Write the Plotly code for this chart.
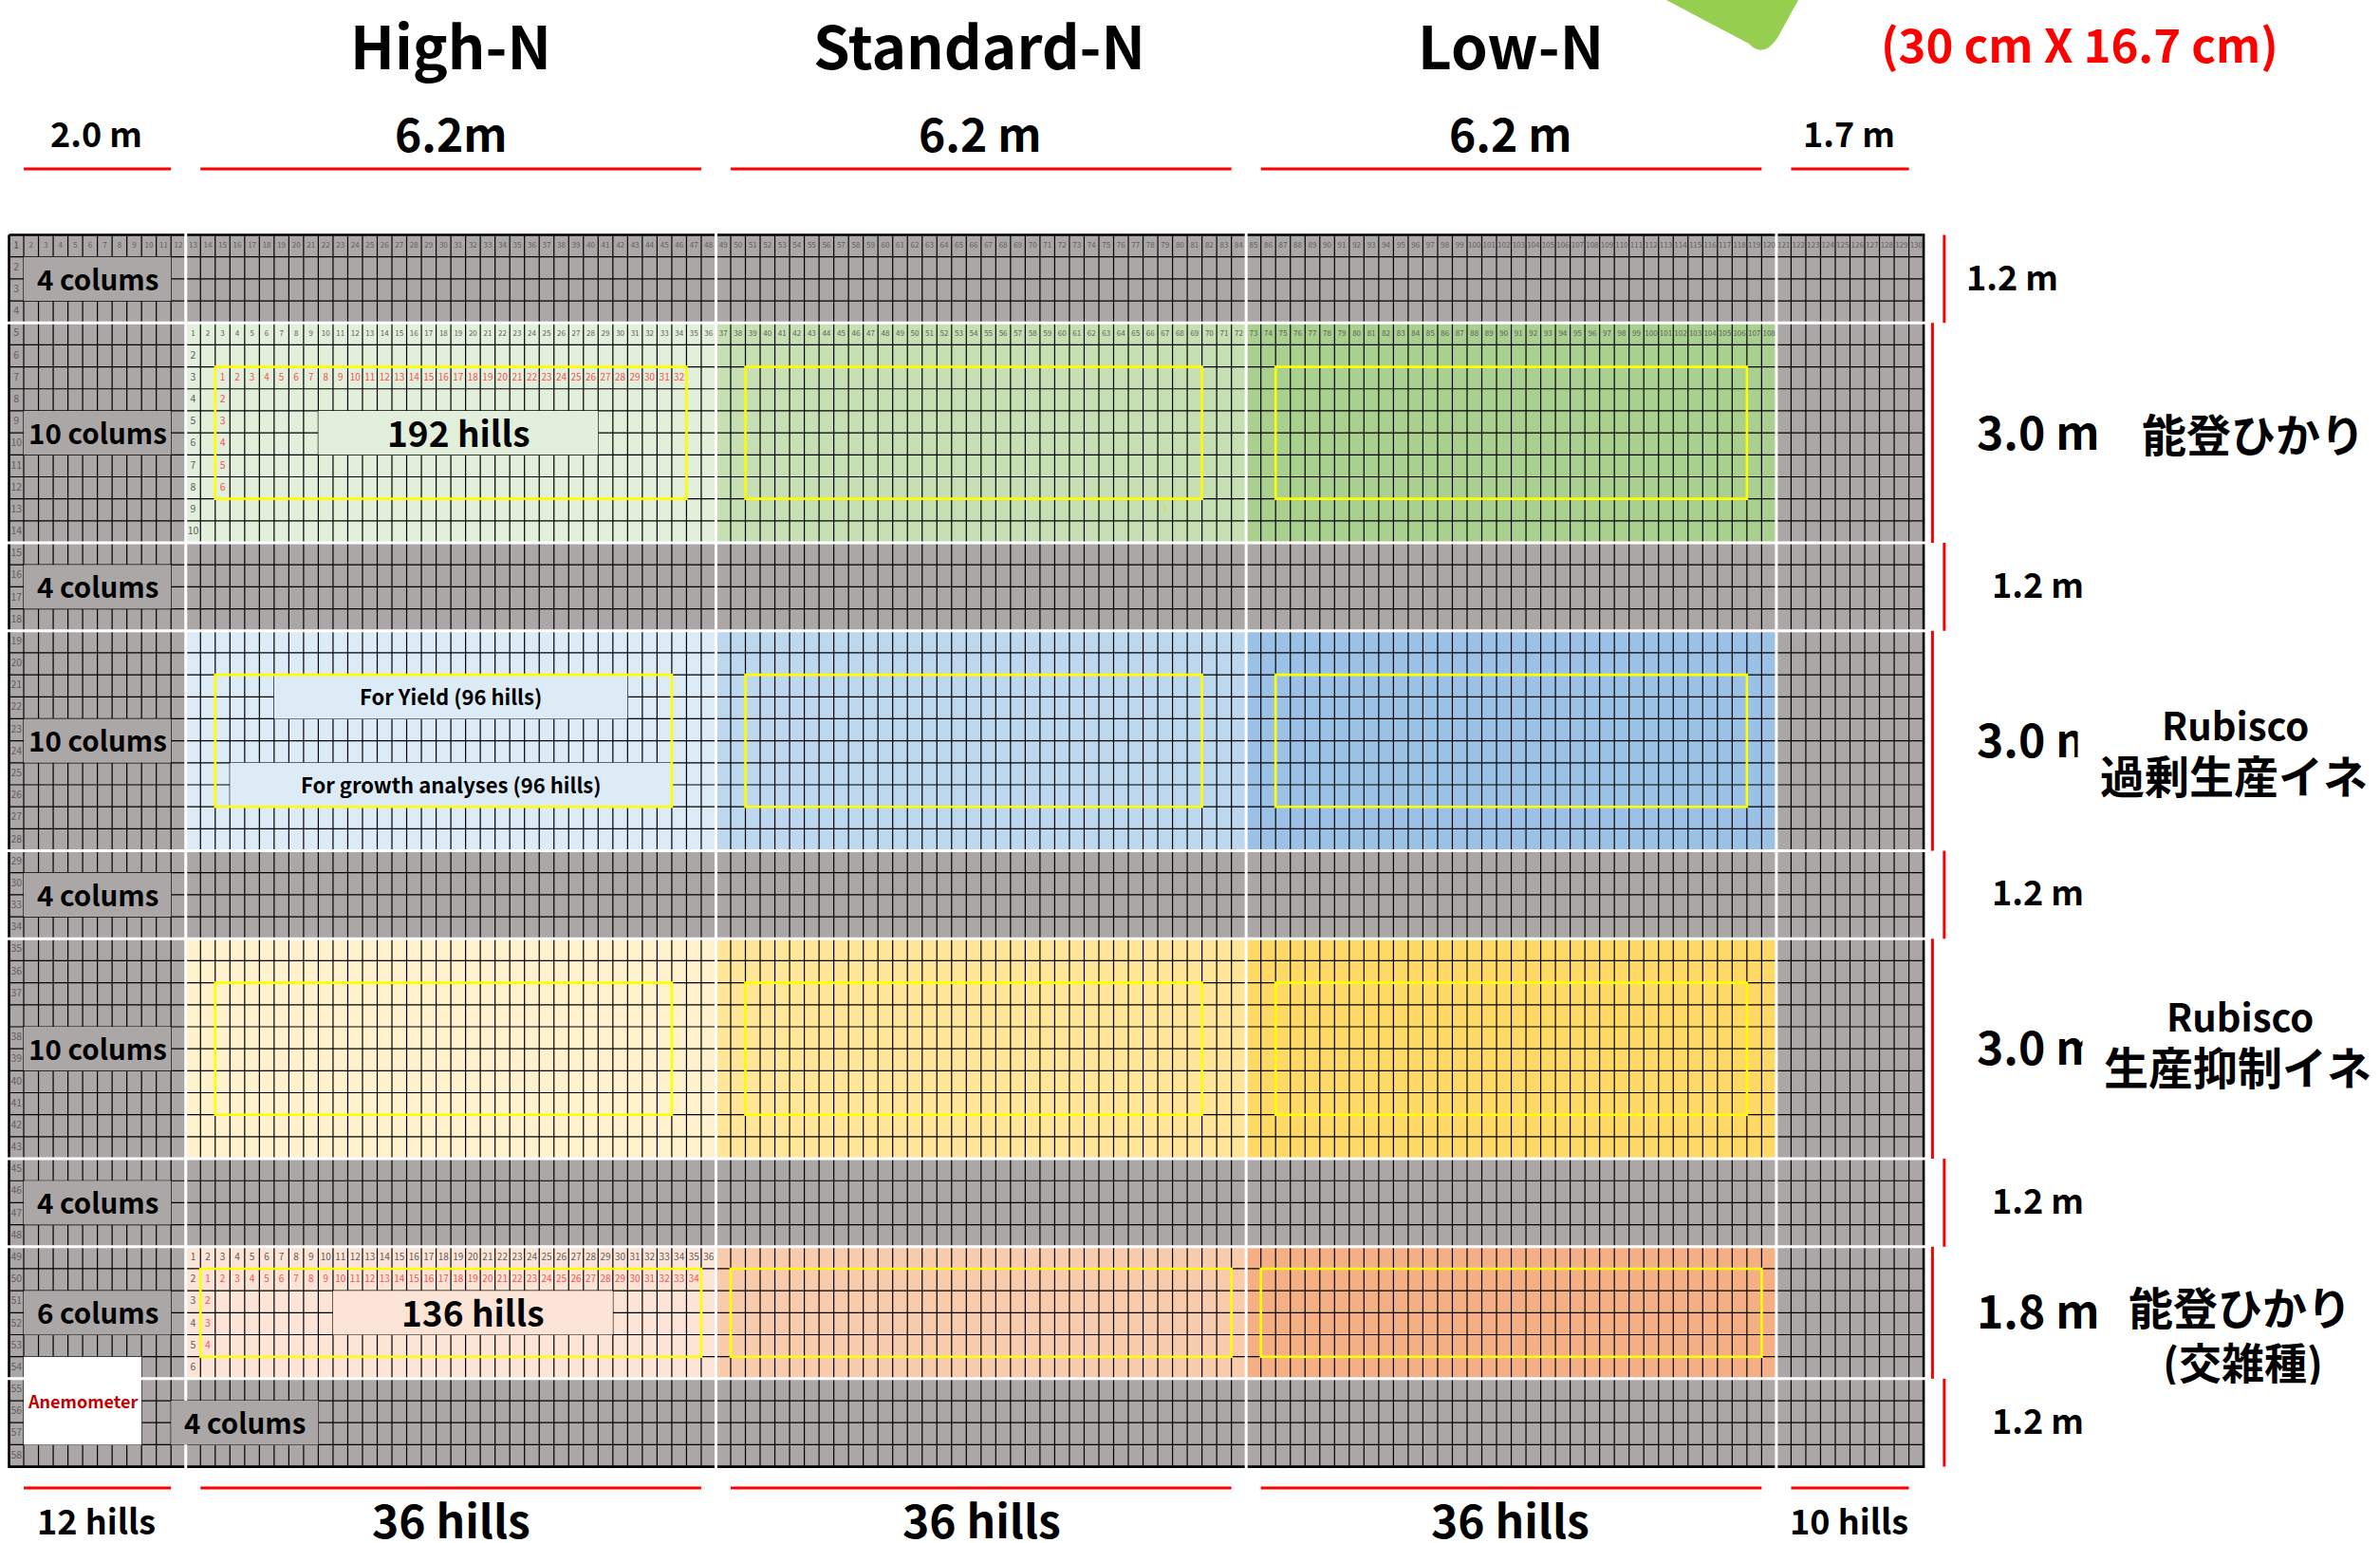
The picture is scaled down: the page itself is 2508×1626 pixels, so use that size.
import plotly.graph_objects as go

W, H = 2508, 1626
FONT = "Noto Sans CJK JP"

# ---- field layout (hills across, rows down)
n_hills = 130
n_rows = 56
plot_edges = [0, 12, 48, 84, 120, 130]
block_edges = [0, 4, 14, 18, 28, 32, 42, 46, 52, 56]
block_kind = ["buffer", "noto", "buffer", "over", "buffer", "sup", "buffer", "hybrid", "buffer"]
colour_sets = {
    "noto": ["#E2EFDA", "#C6E0B4", "#A9D08E"],
    "over": ["#DDEBF7", "#BDD7EE", "#9BC2E6"],
    "sup": ["#FFF2CC", "#FFE699", "#FFD966"],
    "hybrid": ["#FCE4D6", "#F8CBAD", "#F4B084"],
}
GREY = "#ABA7A6"

# ---- tick-like labels
top_numbers = [str(i) for i in range(1, 131)]
row_numbers = ["1", "2", "3", "4", "5", "6", "7", "8", "9", "10", "11", "12", "13", "14",
               "15", "16", "17", "18", "19", "20", "21", "22", "23", "24", "25", "26", "27", "28",
               "29", "30", "33", "34", "35", "36", "37", "", "38", "39", "40", "41", "42", "43",
               "45", "46", "47", "48", "49", "50", "51", "52", "53", "54", "55", "56", "57", "58"]
sample_rects = [
    (14, 46, 6, 12), (50, 81, 6, 12), (86, 118, 6, 12),
    (14, 45, 20, 26), (50, 81, 20, 26), (86, 118, 20, 26),
    (14, 45, 34, 40), (50, 81, 34, 40), (86, 118, 34, 40),
    (13, 47, 47, 51), (49, 83, 47, 51), (85, 119, 47, 51),
]
# x0, x1, y0, y1, fill
boxes = [
    (1, 11, 1, 3, GREY), (1, 11, 8, 10, GREY), (1, 11, 15, 17, GREY), (1, 11, 22, 24, GREY),
    (1, 11, 29, 31, GREY), (1, 11, 36, 38, GREY), (1, 11, 43, 45, GREY), (1, 11, 48, 50, GREY),
    (11, 21, 53, 55, GREY), (1, 9, 51, 55, "#FFFFFF"),
    (21, 40, 8, 10, "#E2EFDA"), (22, 41, 48, 50, "#FCE4D6"),
    (18, 42, 20, 22, "#DDEBF7"), (15, 45, 24, 26, "#DDEBF7"),
]
box_labels = [
    ("4 colums", 6, 1.95, 29.5, "black"), ("10 colums", 6, 8.95, 29.5, "black"), ("4 colums", 6, 15.95, 29.5, "black"),
    ("10 colums", 6, 22.95, 29.5, "black"), ("4 colums", 6, 29.95, 29.5, "black"), ("10 colums", 6, 36.95, 29.5, "black"),
    ("4 colums", 6, 43.95, 29.5, "black"), ("6 colums", 6, 48.95, 29.5, "black"), ("4 colums", 16, 53.95, 29.5, "black"),
    ("Anemometer", 5, 53.0, 18, "#C00000"),
    ("192 hills", 30.5, 8.95, 37, "black"), ("136 hills", 31.5, 48.95, 37, "black"),
    ("For Yield (96 hills)", 30, 20.95, 22, "black"), ("For growth analyses (96 hills)", 30, 24.95, 22, "black"),
]
# text, x px, y px, size
outer_labels = [
    ("High-N", 475, 46, 62), ("Standard-N", 1032, 46, 62), ("Low-N", 1592, 46, 62),
    ("2.0 m", 102, 139, 36), ("6.2m", 475, 139, 48), ("6.2 m", 1032, 139, 48),
    ("6.2 m", 1592, 139, 48), ("1.7 m", 1948, 139, 36),
    ("1.2 m", 2120, 290, 36), ("1.2 m", 2147, 614, 36), ("1.2 m", 2147, 938, 36),
    ("1.2 m", 2147, 1263, 36), ("1.2 m", 2147, 1495, 36),
    ("3.0 m", 2147, 453, 48), ("3.0 m", 2147, 777, 48), ("3.0 m", 2147, 1101, 48), ("1.8 m", 2147, 1379, 48),
]
bottom_labels = [
    ("12 hills", 102, 1601, 36), ("36 hills", 475, 1600, 48), ("36 hills", 1034, 1600, 48),
    ("36 hills", 1592, 1600, 48), ("10 hills", 1948, 1601, 36),
]
side_labels = [
    ("能登ひかり", 2374, 455, 47), ("Rubisco", 2355, 762, 40), ("過剰生産イネ", 2354, 815, 47),
    ("Rubisco", 2360, 1069, 40), ("生産抑制イネ", 2358, 1122, 47),
    ("能登ひかり", 2360, 1375, 47), ("(交雑種)", 2363, 1434, 45),
]

x_unit, y_unit = 15.52, 23.18
x0_px, y0_px = 9.5, 247.5
x_range = [-x0_px / x_unit, (W - x0_px) / x_unit]
y_range = [(H - y0_px) / y_unit, -y0_px / y_unit]

# ---- cell colours
palette = [GREY] + [c for k in ("noto", "over", "sup", "hybrid") for c in colour_sets[k]]
kinds = ["noto", "over", "sup", "hybrid"]
z = []
for r in range(n_rows):
    b = next(i for i in range(len(block_kind)) if block_edges[i] <= r < block_edges[i + 1])
    row = []
    for h in range(n_hills):
        p = next(i for i in range(5) if plot_edges[i] <= h < plot_edges[i + 1])
        if block_kind[b] == "buffer" or p in (0, 4):
            row.append(0)
        else:
            row.append(1 + kinds.index(block_kind[b]) * 3 + (p - 1))
    z.append(row)
n = len(palette)
cs = []
for i, c in enumerate(palette):
    cs += [[i / n, c], [(i + 1) / n, c]]

fig = go.Figure()
fig.add_trace(go.Heatmap(z=z, x=[h + 0.5 for h in range(n_hills)], y=[r + 0.5 for r in range(n_rows)],
                         colorscale=cs, zmin=-0.5, zmax=n - 0.5, showscale=False, hoverinfo="skip"))

# grid
gx, gy = [], []
for h in range(1, n_hills):
    gx += [h, h, None]; gy += [0, n_rows, None]
for r in range(1, n_rows):
    gx += [0, n_hills, None]; gy += [r, r, None]
fig.add_trace(go.Scatter(x=gx, y=gy, mode="lines", line=dict(color="#000000", width=1.2), hoverinfo="skip"))
# frame
fig.add_trace(go.Scatter(x=[0, n_hills, n_hills, 0, 0], y=[0, 0, n_rows, n_rows, 0], mode="lines",
                         line=dict(color="black", width=2.6), hoverinfo="skip"))
# white gaps
wx, wy = [], []
for e in plot_edges[1:-1]:
    wx += [e, e, None]; wy += [-0.1, n_rows + 0.1, None]
for e in block_edges[1:-1]:
    wx += [-0.3, n_hills + 0.3, None]; wy += [e, e, None]
fig.add_trace(go.Scatter(x=wx, y=wy, mode="lines", line=dict(color="white", width=3), hoverinfo="skip"))

# small numbers
def add_numbers(xs, ys, texts, colour, size):
    fig.add_trace(go.Scatter(x=xs, y=ys, text=texts, mode="text", hoverinfo="skip", cliponaxis=False,
                             textposition="middle center",
                             textfont=dict(family=FONT, size=size, color=colour)))

add_numbers([i + 0.5 for i in range(n_hills)], [0.5] * n_hills, top_numbers, "#606060", 8)
add_numbers([0.5] * n_rows, [r + 0.5 for r in range(n_rows)], row_numbers, "#606060", 10.5)
block_nums = [str(i) for i in range(1, 109)]
add_numbers([12.5 + i for i in range(108)], [4.5] * 108, block_nums, "#606060", 8)
add_numbers([12.5] * 9, [5.5 + i for i in range(9)], [str(i) for i in range(2, 11)], "#606060", 10.5)
add_numbers([14.5 + i for i in range(32)], [6.5] * 32, [str(i) for i in range(1, 33)], "#FF5050", 10)
add_numbers([14.5] * 5, [7.5 + i for i in range(5)], [str(i) for i in range(2, 7)], "#FF5050", 10.5)
add_numbers([12.5 + i for i in range(36)], [46.5] * 36, [str(i) for i in range(1, 37)], "#606060", 10)
add_numbers([12.5] * 5, [47.5 + i for i in range(5)], [str(i) for i in range(2, 7)], "#606060", 10.5)
add_numbers([13.5 + i for i in range(34)], [47.5] * 34, [str(i) for i in range(1, 35)], "#FF5050", 10)
add_numbers([13.5] * 3, [48.5 + i for i in range(3)], ["2", "3", "4"], "#FF5050", 10.5)
add_numbers([78.5], [12.5], ["1"], "#E6D050", 10)

shapes = []
for x0, x1, y0, y1, fill in boxes:
    shapes.append(dict(type="rect", xref="x", yref="y", x0=x0, x1=x1, y0=y0, y1=y1,
                       fillcolor=fill, line=dict(width=0), layer="above"))
for x0, x1, y0, y1 in sample_rects:
    shapes.append(dict(type="rect", xref="x", yref="y", x0=x0, x1=x1, y0=y0, y1=y1,
                       fillcolor="rgba(0,0,0,0)", line=dict(color="#FFFF00", width=2.6), layer="above"))
RED = "#FF0000"
span_h = [(1, 11), (13, 47), (49, 83), (85, 119), (121, 129)]
for a, b in span_h:
    shapes.append(dict(type="line", xref="x", yref="paper", x0=a, x1=b, y0=1 - 178 / H, y1=1 - 178 / H,
                       line=dict(color=RED, width=3)))
    shapes.append(dict(type="line", xref="x", yref="paper", x0=a, x1=b, y0=1 - 1568 / H, y1=1 - 1568 / H,
                       line=dict(color=RED, width=3)))
for i in range(len(block_edges) - 1):
    xv = 131.4 if block_kind[i] == "buffer" else 130.6
    shapes.append(dict(type="line", xref="x", yref="y", x0=xv, x1=xv, y0=block_edges[i], y1=block_edges[i + 1],
                       line=dict(color=RED, width=3)))
# green arrow tip at the top edge
shapes.append(dict(type="path", xref="paper", yref="paper", fillcolor="#96CF50", line=dict(width=0), layer="above",
                   path=f"M {1756/W} 1 L {1895/W} 1 L {1873/W} {1-40/H} Q {1858/W} {1-62/H} {1843/W} {1-46/H} Z"))


def note(text, x, y, size, colour="black", xref="paper", yref="paper", **kw):
    kw.setdefault("xanchor", "center")
    return dict(text=text, x=x, y=y, xref=xref, yref=yref, showarrow=False, align="center", yanchor="middle",
                font=dict(family=FONT, size=size, color=colour, weight=kw.pop("weight", 700)), **kw)


annos = []
for t, x, y, s, c in box_labels:
    annos.append(note(t, x, y, s, c, xref="x", yref="y"))
for t, x, y, s in outer_labels:
    annos.append(note(t, x / W, 1 - y / H, s))
for t, x, y, s in bottom_labels:
    annos.append(note(t, x / W, 1 - y / H, s, height=50))
annos.append(note("(30 cm X 16.7 cm)", 2191 / W, 1 - 45 / H, 49, RED))
# white text boxes that cut the m off the two 3.0 m labels
annos.append(note(" ", 2189 / W, 1 - 780 / H, 10, "white", bgcolor="white", xanchor="left", width=30, height=70))
annos.append(note(" ", 2194 / W, 1 - 1104 / H, 10, "white", bgcolor="white", xanchor="left", width=30, height=70))
for t, x, y, s in side_labels:
    annos.append(note(t, x / W, 1 - y / H, s, height=round(s * 1.12)))

fig.update_layout(width=W, height=H, margin=dict(l=0, r=0, t=0, b=0, pad=0), showlegend=False,
                  paper_bgcolor="white", plot_bgcolor="white",
                  xaxis=dict(range=x_range, visible=False, fixedrange=True),
                  yaxis=dict(range=y_range, visible=False, fixedrange=True),
                  shapes=shapes, annotations=annos)
fig.write_html("out.html", post_script="document.body.style.margin='0';document.body.style.overflow='hidden';",
               config={"displayModeBar": False})
